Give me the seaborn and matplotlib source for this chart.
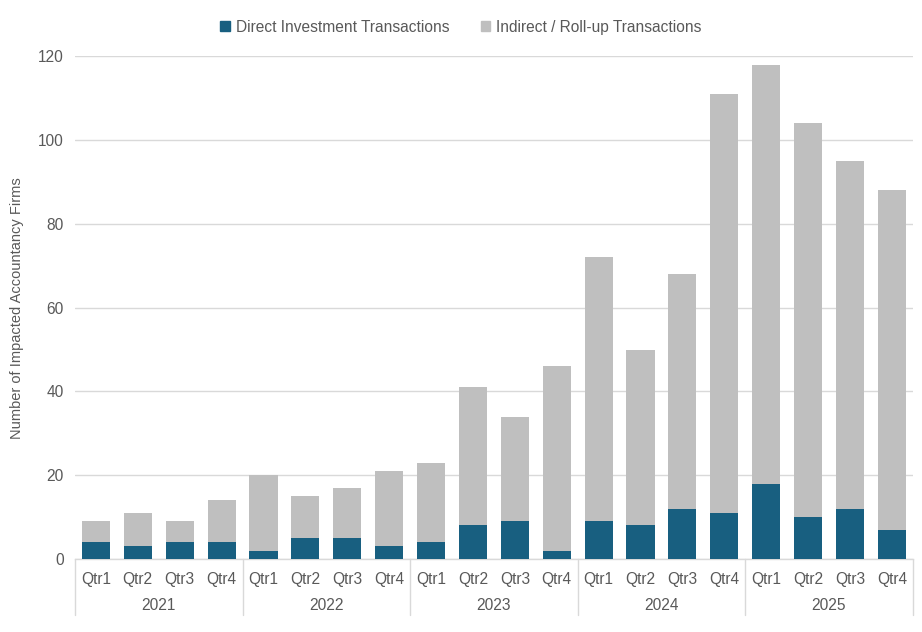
import matplotlib
matplotlib.use("Agg")
import matplotlib.pyplot as plt
import seaborn as sns
import pandas as pd
from matplotlib.patches import Patch

years = ["2021", "2022", "2023", "2024", "2025"]
quarters = ["Qtr1", "Qtr2", "Qtr3", "Qtr4"]
direct = [4, 3, 4, 4, 2, 5, 5, 3, 4, 8, 9, 2, 9, 8, 12, 11, 18, 10, 12, 7]
indirect = [5, 8, 5, 10, 18, 10, 12, 18, 19, 33, 25, 44, 63, 42, 56, 100, 100, 94, 83, 81]

BLUE = "#185F80"
GRAY = "#BFBFBF"
TXT = "#595959"
GRID = "#D9D9D9"

labels = [f"{y} {q}" for y in years for q in quarters]
df = pd.DataFrame({
    "period": labels,
    "direct": direct,
    "indirect": indirect,
})
df["total"] = df["direct"] + df["indirect"]

sns.set_theme(style="white")
plt.rcParams["font.family"] = ["Liberation Sans", "DejaVu Sans"]

fig = plt.figure(figsize=(9.22, 6.32), dpi=100)
ax = fig.add_axes([0.0813, 0.1155, 0.9087, 0.7955])

sns.barplot(data=df, x="period", y="total", order=labels, color=GRAY,
            width=0.67, saturation=1, linewidth=0, ax=ax, zorder=2)
sns.barplot(data=df, x="period", y="direct", order=labels, color=BLUE,
            width=0.67, saturation=1, linewidth=0, ax=ax, zorder=3)

ax.set_xlim(-0.5, len(labels) - 0.5)
ax.set_ylim(0, 120)
ax.set_yticks(range(0, 121, 20))
ax.yaxis.grid(True, color=GRID, linewidth=1)
ax.set_axisbelow(True)
for s in ["top", "right", "left"]:
    ax.spines[s].set_visible(False)
ax.spines["bottom"].set_color(GRID)
ax.spines["bottom"].set_linewidth(1)

ax.set_xticks(range(len(labels)))
ax.set_xticklabels([q for _ in years for q in quarters], fontsize=11.2, color=TXT)
ax.tick_params(axis="x", length=0, pad=9)
ax.tick_params(axis="y", length=0, labelsize=11.2, labelcolor=TXT, pad=8)
ax.set_xlabel("")
ax.set_ylabel("Number of Impacted Accountancy Firms", fontsize=10.5, color=TXT, labelpad=10)

trans = ax.get_xaxis_transform()
for i in range(len(years) + 1):
    xb = i * 4 - 0.5
    ax.plot([xb, xb], [0, -0.112], transform=trans, color=GRID, linewidth=1, clip_on=False)
for i, y in enumerate(years):
    ax.text(i * 4 + 1.5, -0.0915, y, transform=trans, ha="center", va="center",
            fontsize=11.2, color=TXT)

handles = [Patch(color=BLUE, label="Direct Investment Transactions"),
           Patch(color=GRAY, label="Indirect / Roll-up Transactions")]
fig.legend(handles=handles, loc="center", bbox_to_anchor=(0.5, 0.957), ncol=2,
           frameon=False, fontsize=11.2, handlelength=0.6, handleheight=0.6,
           handletextpad=0.4, columnspacing=2.0, labelcolor=TXT)

fig.savefig("out.png", dpi=100, facecolor="white")
